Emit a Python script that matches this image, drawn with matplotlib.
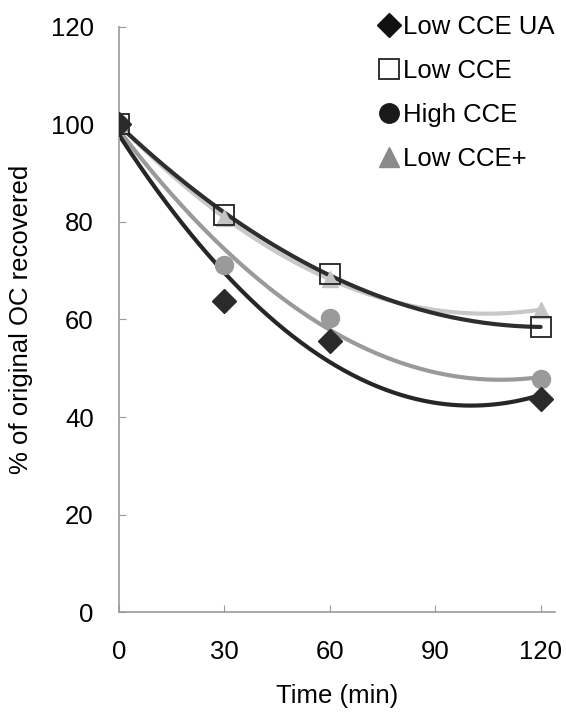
import matplotlib.pyplot as plt
import numpy as np
from matplotlib.lines import Line2D

plt.rcParams['font.family'] = ['Liberation Sans', 'DejaVu Sans']

# data
time = [0, 30, 60, 120]
low_cce_ua = [100, 63.8, 55.6, 43.8]
low_cce = [100, 81.4, 69.4, 58.4]
high_cce = [100, 71.2, 60.3, 47.8]
low_cce_plus = [100, 80.8, 68.3, 62.0]

fig = plt.figure(figsize=(5.66, 7.17), dpi=100)
ax = fig.add_axes([0.21, 0.146, 0.77, 0.817])

xs = np.linspace(0, 120, 200)

# quadratic trendlines (excel style)
def trend(y, color, lw):
    c = np.polyfit(time, y, 2)
    ax.plot(xs, np.polyval(c, xs), color=color, lw=lw, zorder=2, solid_capstyle='round')

ax.plot(time, low_cce_plus, linestyle='none', marker='^', ms=12, color='#c4c4c4', zorder=3)
ax.plot(time, low_cce, linestyle='none', marker='s', ms=14, mfc='none', mec='#222222', mew=1.3, zorder=3)
ax.plot(time, high_cce, linestyle='none', marker='o', ms=13, color='#9a9a9a', zorder=3)
ax.plot(time, low_cce_ua, linestyle='none', marker='D', ms=12, color='#2a2a2a', zorder=3)

trend(low_cce_plus, '#c8c8c8', 3)
trend(high_cce, '#9a9a9a', 3)
trend(low_cce_ua, '#262626', 3)
trend(low_cce, '#2e2e2e', 3)

ax.set_xlim(0, 124)
ax.set_ylim(0, 120)
ax.set_xticks([0, 30, 60, 90, 120])
ax.set_yticks([0, 20, 40, 60, 80, 100, 120])
ax.tick_params(direction='in', length=5, color='#999999', labelsize=18.5)
ax.tick_params(axis='x', pad=20)
ax.tick_params(axis='y', pad=18)
for s in ['top', 'right']:
    ax.spines[s].set_visible(False)
for s in ['left', 'bottom']:
    ax.spines[s].set_color('#999999')
    ax.spines[s].set_linewidth(1.2)

ax.set_xlabel('Time (min)', fontsize=18.5, labelpad=14)
ax.set_ylabel('% of original OC recovered', fontsize=18.5, labelpad=13)

handles = [
    Line2D([], [], linestyle='none', marker='D', ms=12, color='#111111'),
    Line2D([], [], linestyle='none', marker='s', ms=14, mfc='none', mec='#222222', mew=1.3),
    Line2D([], [], linestyle='none', marker='o', ms=14, color='#1a1a1a'),
    Line2D([], [], linestyle='none', marker='^', ms=14, color='#8a8a8a'),
]
labels = ['Low CCE UA', 'Low CCE', 'High CCE', 'Low CCE+']
fig.legend(handles, labels, loc='upper left', bbox_to_anchor=(0.628, 1.012),
           frameon=False, fontsize=18.5, handlelength=0.8, handletextpad=0.15,
           labelspacing=0.79)

plt.savefig('out.png', dpi=100)
plt.close()
